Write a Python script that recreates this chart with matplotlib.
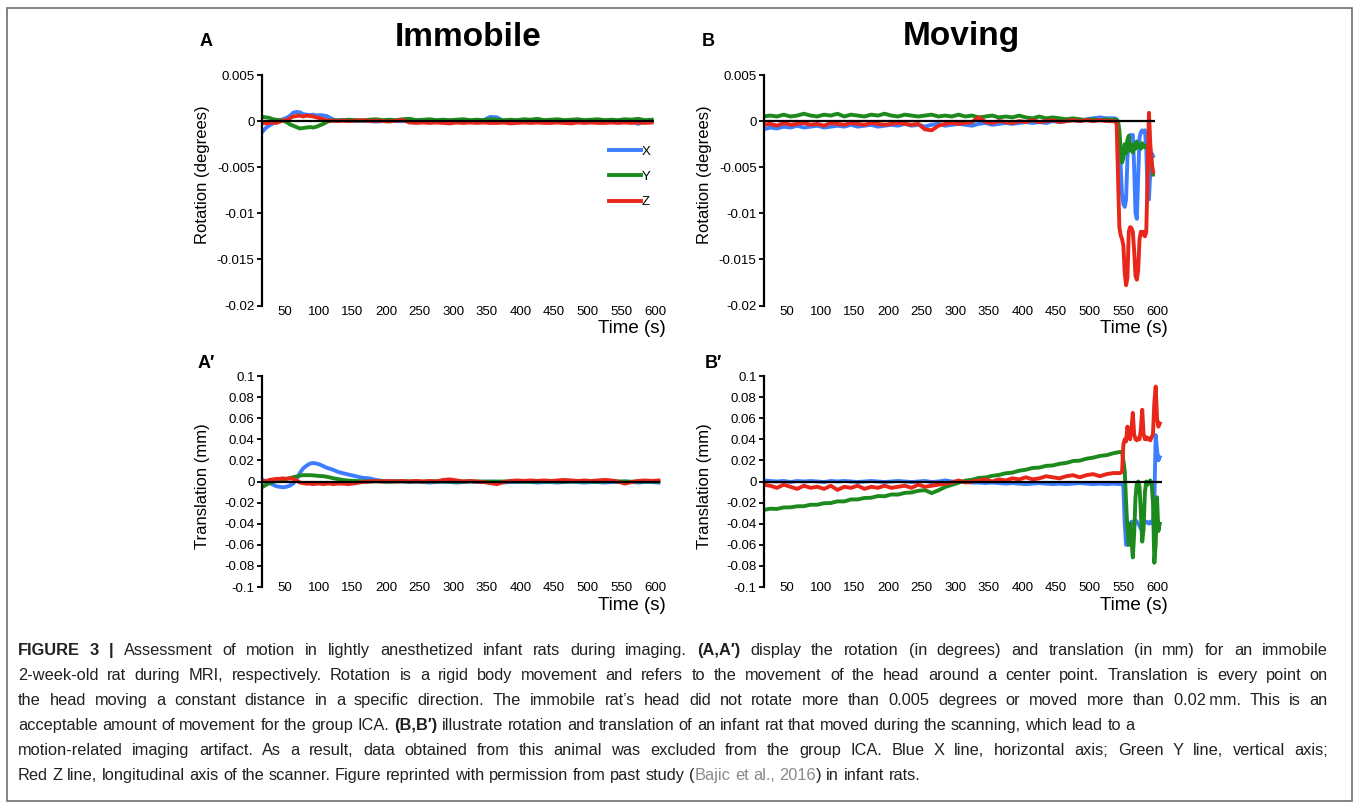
import matplotlib
matplotlib.use("Agg")
import matplotlib.pyplot as plt
from matplotlib.lines import Line2D
from matplotlib.patches import Rectangle
import numpy as np

plt.rcParams['font.family'] = ['Liberation Sans', 'DejaVu Sans']

W, H = 1358, 806

# ---------------- data ----------------
# panel A: rotation, immobile rat (values in 1e-3 degrees)
t_a = np.concatenate([np.arange(17, 130, 5), np.arange(135, 600, 10)])
rot_a_x = [-1.1, -0.7, -0.45, -0.25, -0.05, 0.1, 0.2, 0.35, 0.55, 0.9,
           1.0, 0.95, 0.75, 0.7, 0.65, 0.7, 0.6, 0.65, 0.6, 0.55,
           0.35, 0.15, 0.1,
           0.1, 0.05, 0.0, 0.05, 0.0, -0.05, 0.0, 0.05, 0.0, 0.0,
           0.05, 0.1, 0.0, -0.05, 0.0, 0.05, 0.0, 0.05, 0.0, -0.05,
           0.0, 0.1, 0.45, 0.4, 0.0, -0.05, 0.0, 0.05, 0.0, 0.0,
           -0.05, 0.0, 0.05, 0.0, 0.0, -0.05, 0.0, 0.05, 0.0, 0.0,
           0.05, 0.0, -0.05, 0.0, -0.3, 0.0, 0.05]
rot_a_y = [0.45, 0.4, 0.35, 0.2, 0.15, 0.1, 0.05, -0.1, -0.35, -0.5,
           -0.65, -0.8, -0.75, -0.7, -0.65, -0.7, -0.6, -0.45, -0.3, -0.1,
           0.05, 0.1, 0.05,
           0.1, 0.15, 0.1, 0.05, 0.15, 0.2, 0.1, 0.15, 0.1, 0.2,
           0.25, 0.1, 0.15, 0.2, 0.1, 0.15, 0.1, 0.15, 0.2, 0.1,
           0.15, 0.1, 0.2, 0.15, 0.1, 0.15, 0.1, 0.2, 0.15, 0.25,
           0.1, 0.15, 0.2, 0.1, 0.15, 0.2, 0.1, 0.15, 0.2, 0.1,
           0.15, 0.1, 0.2, 0.15, 0.25, 0.1, 0.15]
rot_a_z = [-0.2, -0.25, -0.2, -0.15, -0.2, -0.05, 0.05, 0.1, 0.3, 0.5,
           0.55, 0.6, 0.5, 0.6, 0.55, 0.5, 0.4, 0.3, 0.2, 0.1,
           0.0, 0.05, 0.0,
           0.05, 0.0, 0.05, 0.1, 0.0, 0.05, 0.0, -0.05, 0.05, 0.1,
           -0.15, -0.2, -0.15, -0.2, -0.15, -0.2, -0.25, -0.15, -0.2, -0.15,
           -0.2, -0.15, -0.2, -0.2, -0.15, -0.25, -0.2, -0.15, -0.2, -0.15,
           -0.2, -0.2, -0.15, -0.2, -0.25, -0.15, -0.2, -0.15, -0.2, -0.2,
           -0.15, -0.2, -0.15, -0.2, -0.15, -0.2, -0.15]

# panel B: rotation, moving rat (values in 1e-3 degrees)
t_b = np.concatenate([np.arange(15, 540, 10),
                      [537, 540, 542, 544, 546, 548, 550, 552, 554, 556,
                       558, 560, 562, 564, 566, 568, 570, 572, 574, 576,
                       578, 580, 582, 584, 586, 588, 590, 592, 594]])
rot_b_x = [-0.9, -0.7, -0.8, -0.6, -0.7, -0.5, -0.7, -0.6, -0.5, -0.7,
           -0.6, -0.5, -0.6, -0.4, -0.6, -0.5, -0.4, -0.6, -0.5, -0.4,
           -0.5, -0.3, -0.5, -0.4, -0.6, -0.4, -0.3, -0.5, -0.4, -0.3,
           -0.4, -0.5, -0.3, -0.2, -0.4, -0.3, -0.2, -0.3, -0.2, -0.1,
           -0.2, -0.1, -0.2, 0.0, -0.1, 0.0, 0.1, 0.0, 0.2, 0.3,
           0.4, 0.3, 0.3,
           0.3, 0.2, -0.3, -2.0, -5.0, -8.0, -9.0, -9.3, -8.5, -4.0,
           -1.8, -1.5, -1.7, -1.5, -5.0, -10.0, -10.6, -6.0, -1.8, -1.2,
           -1.0, -1.2, -1.0, -3.0, -8.0, -8.5, -5.5, -3.5, -3.8]
rot_b_y = [0.5, 0.6, 0.5, 0.7, 0.5, 0.6, 0.8, 0.6, 0.5, 0.7,
           0.6, 0.8, 0.5, 0.7, 0.6, 0.5, 0.7, 0.6, 0.8, 0.6,
           0.5, 0.7, 0.6, 0.5, 0.6, 0.7, 0.5, 0.6, 0.5, 0.7,
           0.5, 0.6, 0.4, 0.5, 0.6, 0.4, 0.5, 0.4, 0.6, 0.4,
           0.3, 0.5, 0.3, 0.4, 0.3, 0.2, 0.3, 0.2, 0.1, 0.2,
           0.1, 0.2, 0.1,
           0.2, 0.1, 0.0, -1.0, -3.0, -4.5, -4.0, -2.5, -3.5, -2.0,
           -1.6, -3.2, -2.6, -3.4, -2.5, -3.0, -2.2, -2.8, -2.6, -3.0,
           -2.4, -2.8, -2.7, -2.9, -2.6, -3.0, -3.2, -4.5, -5.8]
rot_b_z = [-0.4, -0.3, -0.5, -0.2, -0.4, -0.3, -0.2, -0.4, -0.3, -0.5,
           -0.2, -0.3, -0.4, -0.2, -0.3, -0.4, -0.2, -0.3, -0.4, -0.3,
           -0.2, -0.3, -0.4, -0.3, -0.9, -1.0, -0.5, -0.3, -0.2, -0.3,
           -0.2, -0.1, 0.4, -0.1, -0.2, 0.0, -0.1, -0.2, 0.0, -0.1,
           0.1, -0.1, 0.0, 0.1, -0.1, 0.0, 0.1, 0.0, 0.1, 0.0,
           0.1, 0.0, 0.0,
           0.0, -0.3, -6.0, -11.5, -12.4, -12.8, -13.5, -16.5, -17.8, -17.0,
           -12.0, -11.5, -11.6, -12.0, -14.0, -16.8, -17.2, -16.2, -12.8, -12.0,
           -12.3, -12.0, -12.5, -12.0, -6.0, 0.9, -2.5, -4.5, -5.5]

# panel A': translation, immobile rat (values in micrometres)
t_a2 = np.concatenate([np.arange(17, 130, 5), np.arange(135, 610, 10)])
tr_a_x = [1.5, 0, -1.5, -3, -4.5, -5, -5.5, -5, -4, -2,
          2, 8, 12.5, 15, 17, 17.5, 17, 16, 14.5, 13,
          12, 11, 9.5,
          8, 6.5, 5, 3.5, 3, 1.5, 0.5, 0, 0.5, 0,
          -0.5, 0, -0.5, -1, -0.5, 0, -0.5, -1, -0.5, 0,
          -0.5, -0.5, 0, -0.5, -1, -0.5, -0.5, 0, -0.5, -1,
          -0.5, -0.5, -1, -0.5, 0, -0.5, -1, -0.5, -0.5, -1,
          -0.5, -0.5, 0, -0.5, -1, -0.5, -0.5, -1]
tr_a_y = [-5, -3, -1.5, -0.5, 0.5, 1.2, 1.8, 2.5, 3.2, 4,
          4.8, 5.5, 6, 6, 6, 5.8, 5.5, 5.2, 5, 4.5,
          3.8, 3, 2.5,
          1.5, 0.8, 0.5, 0.2, 0, 0.2, 0, -0.2, 0, 0.2,
          0, 0, -0.2, 0, 0.2, 0, 0, -0.2, 0, 0.2,
          0, 0, -0.2, 0, 0, 0.2, 0, -0.2, 0, 0,
          0.2, 0, 0, -0.2, 0, 0.2, 0, 0, -0.2, 0,
          0.5, 0, 0, -0.2, 0, 0.2, 0, 0]
tr_a_z = [0, 0.5, 1.5, 2, 2.5, 2.5, 3, 2.5, 3, 2.5,
          1, -1, -1.5, -2, -2, -2.5, -2, -2, -2.5, -2,
          -2, -2.5, -2,
          -2, -2.5, -1.5, -0.5, 0, 0.5, 0, 0.5, 0, 0.5,
          0, 0.5, 0, 0.5, 0, 1.5, 2, 1, 0, 0.5,
          0, -0.5, -1.5, -2.5, -0.5, 0.5, 1, 0.5, 1, 0.5,
          1, 0.5, 1, 1.5, 1, 0.5, 1, 0.5, 1, 1.5,
          1, 0, -2, -0.5, 0.5, 1, 0.5, 1]

# panel B': translation, moving rat (values in micrometres)
t_b2 = np.concatenate([np.arange(15, 550, 10),
                       [548, 550, 552, 554, 556, 558, 560, 562, 564, 566,
                        568, 570, 572, 574, 576, 578, 580, 582, 584, 586,
                        588, 590, 592, 594, 596, 598, 600, 602, 604]])
tr_b_x = [1, 0.5, 0, 0.5, -0.5, 0.5, 0, 0.5, 0, -0.5,
          0.5, 0, 0.5, 0, -0.5, 0, 0.5, 0, -0.5, 0,
          0.5, 0, -0.5, 0, 0.5, -0.5, 0, 1, 0, -0.5,
          -0.5, -1, -1, -1.5, -1, -1.5, -2, -1.5, -2, -2.5,
          -2, -1.5, -2, -2.5, -2, -2.5, -2, -1.5, -2, -2.5,
          -2, -2.5, -2, -2.5,
          -2, -5, -40, -60, -60, -55, -42, -38, -40, -39,
          -37, -38, -40, -42, -45, -42, -40, -39, -38, -39,
          -40, -38, -39, -40, -20, 44, 30, 20, 23]
tr_b_y = [-27, -25.8, -26, -24.6, -24.5, -23.5, -23.4, -22, -22, -20.6,
          -20.4, -18.8, -18.9, -17, -17, -15.6, -15.4, -13.8, -14, -12.3,
          -12.4, -10.8, -10.4, -8.8, -8.2, -11, -8.4, -5.2, -3.2, -1.2,
          0.8, 1.6, 3.4, 3.8, 5.4, 6.2, 7.8, 8.4, 10.2, 11.2,
          12.8, 13.2, 14.8, 15.2, 16.8, 17.6, 19.4, 19.8, 21.6, 22.6,
          24.2, 25, 26.8, 28,
          28, 20, 10, -20, -45, -60, -40, -55, -72, -50,
          -15, -2, 0, -5, -30, -57, -45, -10, 0, -3,
          -1, 1, -2, -20, -77, -60, -15, -47, -40]
tr_b_z = [-3, -4, -6, -3, -5, -7, -4, -6, -5, -7,
          -4, -8, -5, -6, -4, -7, -5, -6, -4, -6,
          -5, -4, -6, -3, -5, -4, -3, -2, -1, 1,
          -1, 0, 1, 2, 0, 2, 1, 3, 2, 4,
          2, 3, 5, 4, 3, 5, 6, 4, 6, 7,
          5, 7, 8, 8,
          9, 35, 40, 38, 52, 45, 40, 50, 65, 45,
          40, 39, 41, 40, 50, 68, 45, 40, 42, 40,
          41, 39, 42, 45, 75, 90, 60, 52, 55]

x_ticks = [50, 100, 150, 200, 250, 300, 350, 400, 450, 500, 550, 600]
rot_ticks = [0.005, 0, -0.005, -0.01, -0.015, -0.02]
rot_labels = ['0.005', '0', '-0.005', '-0.01', '-0.015', '-0.02']
tr_ticks = [0.1, 0.08, 0.06, 0.04, 0.02, 0, -0.02, -0.04, -0.06, -0.08, -0.1]
tr_labels = ['0.1', '0.08', '0.06', '0.04', '0.02', '0', '-0.02', '-0.04',
             '-0.06', '-0.08', '-0.1']
series_names = ['X', 'Y', 'Z']
colors = ['#3d7dff', '#1c8a1c', '#e8261a']

# ---------------- figure ----------------
fig = plt.figure(figsize=(W / 100, H / 100), dpi=100)


def px_box(x0, y_top, w, h):
    return [x0 / W, 1 - (y_top + h) / H, w / W, h / H]


XLIM = (15, 612)
AX_W = 401.6
LW = 2.8


def setup_axis(ax, yticks, ylabels, ylim, ylabel, label_y, xpad):
    ax.set_xlim(*XLIM)
    ax.set_ylim(*ylim)
    for s in ['top', 'right', 'bottom']:
        ax.spines[s].set_visible(False)
    ax.spines['left'].set_linewidth(1.6)
    ax.set_yticks(yticks)
    ax.set_yticklabels(ylabels)
    ax.set_xticks(x_ticks)
    ax.set_xticklabels([str(v) for v in x_ticks])
    ax.tick_params(axis='y', direction='out', length=3.5, width=1.3,
                   pad=1.5, labelsize=9.5)
    ax.tick_params(axis='x', length=0, pad=xpad, labelsize=9.5)
    ax.text(-0.148, label_y, ylabel, rotation=90, ha='center', va='center',
            fontsize=12, transform=ax.transAxes)


def plot_series(ax, t, ys, scale):
    for y, c, n in zip(ys, colors, series_names):
        ax.plot(t, np.array(y) * scale, color=c, lw=LW, label=n,
                solid_joinstyle='round', zorder=2)
    ax.hlines(0, XLIM[0], t.max() + 3, color='black', lw=1.6, zorder=3)


ax_a = fig.add_axes(px_box(261.5, 75, AX_W, 230.5))
ax_b = fig.add_axes(px_box(763.5, 75, AX_W, 230.5))
ax_a2 = fig.add_axes(px_box(261.5, 376, AX_W, 211))
ax_b2 = fig.add_axes(px_box(763.5, 376, AX_W, 211))

plot_series(ax_a, t_a, [rot_a_x, rot_a_y, rot_a_z], 1e-3)
plot_series(ax_b, t_b, [rot_b_x, rot_b_y, rot_b_z], 1e-3)
plot_series(ax_a2, t_a2, [tr_a_x, tr_a_y, tr_a_z], 1e-3)
plot_series(ax_b2, t_b2, [tr_b_x, tr_b_y, tr_b_z], 1e-3)

for ax in (ax_a, ax_b):
    setup_axis(ax, rot_ticks, rot_labels, (-0.02, 0.005),
               'Rotation (degrees)', 0.568, 0.5)
for ax in (ax_a2, ax_b2):
    setup_axis(ax, tr_ticks, tr_labels, (-0.1, 0.1),
               'Translation (mm)', 0.479, -3.5)

for ax, dy in ((ax_a, -16.5), (ax_b, -16.5), (ax_a2, -13), (ax_b2, -13)):
    ax.annotate('Time (s)', xy=(1, 0), xycoords='axes fraction',
                xytext=(2, dy), textcoords='offset points',
                ha='right', va='center', fontsize=13.5)

# legend in panel A
handles = [Line2D([], [], color=c, lw=LW) for c in colors]
ax_a.legend(handles, series_names, loc='upper left',
            bbox_to_anchor=(0.865, 0.695), frameon=False, fontsize=9.5,
            handlelength=2.4, handletextpad=0.1, labelspacing=1.0,
            borderpad=0, borderaxespad=0)

# panel letters and titles
for x, y, s in ((206, 42, 'A'), (708, 42, 'B'), (206, 363, 'A\u2032'),
                (713, 363, 'B\u2032')):
    fig.text(x / W, 1 - y / H, s, fontsize=13, fontweight='bold',
             ha='center', va='center')
fig.text(468 / W, 1 - 37 / H, 'Immobile', fontsize=24, fontweight='bold',
         ha='center', va='center')
fig.text(961 / W, 1 - 37 / H, 'Moving', fontsize=24, fontweight='bold',
         ha='center', va='center')

# caption (justified block, ragged on lines 4 and 6 as in the original)
renderer = fig.canvas.get_renderer()
CAP_SIZE = 11.8
CAP_COLOR = '#231f20'
CAP_LEFT, CAP_RIGHT = 18.0, 1328.0


def measure(s, weight):
    t = fig.text(0, 0, s, fontsize=CAP_SIZE, fontweight=weight)
    w = t.get_window_extent(renderer).width
    t.remove()
    return w


space_w = {wt: measure('x x', wt) - measure('xx', wt) for wt in ('normal', 'bold')}


def caption_line(y_px, runs, justify=True):
    tokens = []
    pending = False
    for txt, weight, color in runs:
        for i, part in enumerate(txt.split(' ')):
            if i > 0:
                pending = True
            if part:
                tokens.append((part, weight, color, pending))
                pending = False
    widths = [measure(p, w) for p, w, c, sp in tokens]
    gaps = [space_w[w] if sp else 0.0 for p, w, c, sp in tokens]
    n_gaps = sum(1 for g in gaps if g > 0)
    extra = 0.0
    if justify and n_gaps:
        extra = (CAP_RIGHT - CAP_LEFT - sum(widths) - sum(gaps)) / n_gaps
    x = CAP_LEFT
    for (part, weight, color, sp), wd, g in zip(tokens, widths, gaps):
        if sp:
            x += g + extra
        fig.text(x / W, 1 - y_px / H, part, fontsize=CAP_SIZE,
                 fontweight=weight, color=color, ha='left', va='baseline')
        x += wd


n, b = 'normal', 'bold'
caption_line(655, [('FIGURE 3 |', b, CAP_COLOR),
                   (' Assessment of motion in lightly anesthetized infant rats during imaging. ', n, CAP_COLOR),
                   ('(A,A\u2032)', b, CAP_COLOR),
                   (' display the rotation (in degrees) and translation (in mm) for an immobile', n, CAP_COLOR)])
caption_line(680, [('2-week-old rat during MRI, respectively. Rotation is a rigid body movement and refers to the movement of the head around a center point. Translation is every point on', n, CAP_COLOR)])
caption_line(705, [('the head moving a constant distance in a specific direction. The immobile rat\u2019s head did not rotate more than 0.005 degrees or moved more than 0.02\u2009mm. This is an', n, CAP_COLOR)])
caption_line(730, [('acceptable amount of movement for the group ICA. ', n, CAP_COLOR),
                   ('(B,B\u2032)', b, CAP_COLOR),
                   (' illustrate rotation and translation of an infant rat that moved during the scanning, which lead to a', n, CAP_COLOR)],
             justify=False)
caption_line(755, [('motion-related imaging artifact. As a result, data obtained from this animal was excluded from the group ICA. Blue X line, horizontal axis; Green Y line, vertical axis;', n, CAP_COLOR)])
caption_line(780, [('Red Z line, longitudinal axis of the scanner. Figure reprinted with permission from past study (', n, CAP_COLOR),
                   ('Bajic et al., 2016', n, '#8a8a8a'),
                   (') in infant rats.', n, CAP_COLOR)],
             justify=False)

# frame around the figure
fig.patches.append(Rectangle((7 / W, 1 - 801 / H), 1345 / W, 793 / H,
                             transform=fig.transFigure, fill=False,
                             edgecolor='#6e6e6e', lw=1.2))

fig.savefig('out.png', dpi=100)
